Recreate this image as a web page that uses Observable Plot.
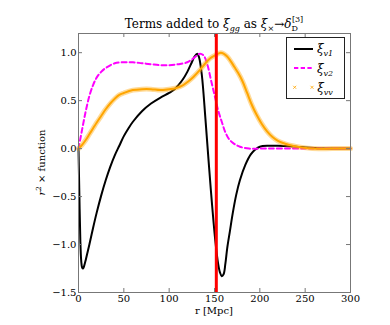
<!DOCTYPE html>
<html>
<head>
<meta charset="utf-8">
<script src="https://cdn.jsdelivr.net/npm/d3@7"></script>
<script src="https://cdn.jsdelivr.net/npm/@observablehq/plot@0.6"></script>
<style>
  html, body { margin: 0; padding: 0; background: white; }
  #chart { width: 390px; height: 325px; }
</style>
</head>
<body>
<div id="chart"></div>
<script>
// ---- data ----
const rV1 = [0,1,2,3,4,5,6,8,10,12,16,20,25,30,35,40,45,50,55,60,70,80,90,100,105,110,115,120,125,128,131,133,136,140,143.5,147,151,154,156,158,160,162,164,167,170,174,178,184,190,195,200,210,220,230,240,250,260,280,300];
const xiV1 = [0,-0.5,-0.95,-1.17,-1.24,-1.25,-1.23,-1.16,-1.08,-1.0,-0.83,-0.67,-0.49,-0.33,-0.19,-0.07,0.03,0.13,0.21,0.28,0.39,0.47,0.53,0.58,0.61,0.66,0.72,0.80,0.90,0.96,0.99,0.95,0.77,0.31,-0.13,-0.55,-0.97,-1.2,-1.29,-1.33,-1.31,-1.2,-1.04,-0.86,-0.68,-0.48,-0.33,-0.17,-0.06,-0.01,0.02,0.03,0.03,0.025,0.02,0.012,0.006,0.001,0];

const rV2 = [0,4,8,12,16,20,25,30,40,50,60,70,80,90,100,110,120,128,134,138,142,146,150,154,158,162,166,171,178,188,200,250,300];
const xiV2 = [0,0.2,0.39,0.55,0.66,0.74,0.80,0.84,0.89,0.90,0.90,0.89,0.88,0.87,0.87,0.88,0.90,0.95,0.99,0.97,0.88,0.72,0.56,0.40,0.28,0.17,0.10,0.055,0.02,0.0,0,0,0];

const rVV = [0,4,8,12,16,20,25,30,35,40,45,50,60,70,80,90,100,107,115,121,127,134,140,145,150,154,157,160,164,168,172,176,181,186,191,196,202,208,214,220,228,236,245,258,280,300];
const xiVV = [0,0.04,0.09,0.15,0.21,0.27,0.34,0.41,0.47,0.52,0.56,0.58,0.61,0.62,0.62,0.61,0.62,0.63,0.66,0.70,0.75,0.82,0.89,0.94,0.97,0.99,1.0,0.99,0.96,0.91,0.85,0.79,0.70,0.58,0.46,0.36,0.26,0.18,0.12,0.08,0.05,0.03,0.015,0.0,0,0];

const redLine = [152];
const xTicks = [0,50,100,150,200,250,300];
const yTicks = [-1.5,-1.0,-0.5,0.0,0.5,1.0];

const v1 = rV1.map((r,i) => ({r, v: xiV1[i]}));
const v2 = rV2.map((r,i) => ({r, v: xiV2[i]}));
const vv = rVV.map((r,i) => ({r, v: xiVV[i]}));

// ---- layout ----
const W = 390, H = 325;
const mL = 78, mR = 40, mT = 33, mB = 33;
const FW = W - mL - mR, FH = H - mT - mB;
const frameColor = "#777";

const chart = Plot.plot({
  width: W, height: H,
  marginLeft: mL, marginRight: mR, marginTop: mT, marginBottom: mB,
  style: {fontFamily: "DejaVu Serif", fontSize: "10px", background: "white", color: "black", overflow: "visible"},
  x: {domain: [0, 300]},
  y: {domain: [-1.5, 1.2]},
  marks: [
    Plot.line(v1, {x: "r", y: "v", stroke: "black", strokeWidth: 2, curve: "catmull-rom"}),
    Plot.line(v2, {x: "r", y: "v", stroke: "magenta", strokeWidth: 2, strokeDasharray: "5,3", curve: "catmull-rom"}),
    Plot.line(vv, {x: "r", y: "v", stroke: "orange", strokeWidth: 5, strokeOpacity: 0.4, curve: "catmull-rom"}),
    Plot.line(vv, {x: "r", y: "v", stroke: "orange", strokeWidth: 2, curve: "catmull-rom"}),
    Plot.ruleX(redLine, {x: d => d, stroke: "red", strokeWidth: 3}),
    Plot.frame({stroke: frameColor}),
    Plot.ruleX(xTicks, {x: d => d, insetTop: FH - 4, stroke: frameColor}),
    Plot.ruleX(xTicks, {x: d => d, insetBottom: FH - 4, stroke: frameColor}),
    Plot.ruleY(yTicks, {y: d => d, insetRight: FW - 4, stroke: frameColor}),
    Plot.ruleY(yTicks, {y: d => d, insetLeft: FW - 4, stroke: frameColor}),
    Plot.axisX({ticks: xTicks, tickSize: 0, tickPadding: 2, label: null, tickFormat: d => String(d)}),
    Plot.axisY({ticks: yTicks, tickSize: 0, tickPadding: 2, label: null, tickFormat: d => d.toFixed(1).replace("-", "\u2212")})
  ]
});

document.getElementById("chart").appendChild(chart);

// ---- title, axis labels, legend ----
const svg = d3.select(chart);
const cx = mL + FW / 2;

const title = svg.append("text")
  .attr("x", cx).attr("y", 28)
  .attr("text-anchor", "middle")
  .attr("font-family", "DejaVu Serif").attr("font-size", 12).attr("fill", "black");
title.append("tspan").text("Terms added to ");
title.append("tspan").attr("font-style", "italic").text("\u03be");
title.append("tspan").attr("font-style", "italic").attr("font-size", 8).attr("dy", 3).text("gg");
title.append("tspan").attr("dy", -3).text(" as ");
title.append("tspan").attr("font-style", "italic").text("\u03be");
title.append("tspan").attr("font-size", 8).attr("dy", 3).text("\u00d7");
title.append("tspan").attr("dy", -3).text("\u2192");
title.append("tspan").attr("font-style", "italic").text("\u03b4");
title.append("tspan").attr("font-size", 8).attr("dy", 3).text("D");
title.append("tspan").attr("font-size", 8).attr("dx", -6).attr("dy", -9).text("[3]");

svg.append("text")
  .attr("x", cx).attr("y", 314)
  .attr("text-anchor", "middle")
  .attr("font-family", "DejaVu Serif").attr("font-size", 10).attr("fill", "black")
  .text("r [Mpc]");

const yl = svg.append("text")
  .attr("transform", `translate(45,${mT + FH / 2}) rotate(-90)`)
  .attr("text-anchor", "middle")
  .attr("font-family", "DejaVu Serif").attr("font-size", 10).attr("fill", "black");
yl.append("tspan").attr("font-style", "italic").text("r");
yl.append("tspan").attr("font-size", 7).attr("dy", -4).text("2");
yl.append("tspan").attr("dy", 4).text(" \u00d7 function");

const lg = svg.append("g");
lg.append("rect").attr("x", 286.5).attr("y", 37.5).attr("width", 58).attr("height", 61)
  .attr("fill", "white").attr("stroke", "#222").attr("stroke-width", 1);
lg.append("line").attr("x1", 294).attr("x2", 313).attr("y1", 49).attr("y2", 49)
  .attr("stroke", "black").attr("stroke-width", 2);
lg.append("line").attr("x1", 294).attr("x2", 313).attr("y1", 68).attr("y2", 68)
  .attr("stroke", "magenta").attr("stroke-width", 2).attr("stroke-dasharray", "4.3,2.4");
for (const mx of [294.7, 312]) {
  lg.append("path").attr("d", `M${mx-1.5},85.8 L${mx+1.5},88.8 M${mx-1.5},88.8 L${mx+1.5},85.8`)
    .attr("stroke", "orange").attr("stroke-width", 1).attr("stroke-opacity", 0.8);
}
const labels = [["v1", 53], ["v2", 72.5], ["vv", 91.5]];
for (const [sub, y] of labels) {
  const t = lg.append("text").attr("x", 325).attr("y", y)
    .attr("font-family", "DejaVu Serif").attr("font-size", 12).attr("fill", "black");
  t.append("tspan").attr("font-style", "italic").text("\u03be");
  t.append("tspan").attr("font-style", "italic").attr("font-size", 8).attr("dy", 3).text(sub);
}
</script>
</body>
</html>
